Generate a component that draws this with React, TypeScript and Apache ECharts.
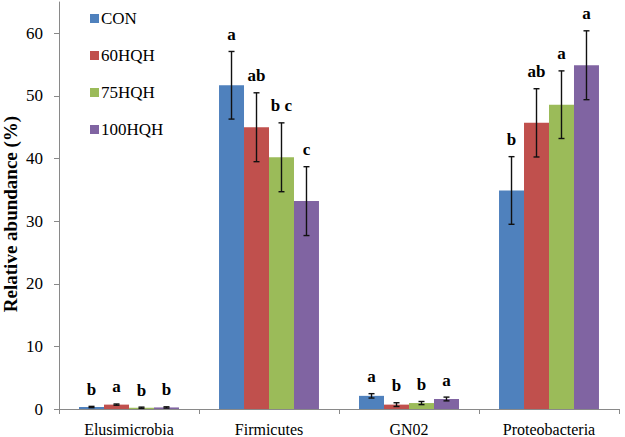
import React, { useEffect, useRef } from "react";
import * as echarts from "echarts";

const categories = ["Elusimicrobia", "Firmicutes", "GN02", "Proteobacteria"];
const seriesNames = ["CON", "60HQH", "75HQH", "100HQH"];
const conValues = [0.32, 51.7, 2.1, 34.9];
const hqh60Values = [0.7, 45.0, 0.7, 45.7];
const hqh75Values = [0.2, 40.2, 0.95, 48.6];
const hqh100Values = [0.25, 33.2, 1.6, 54.9];
const conErr = [0.1, 5.4, 0.35, 5.4];
const hqh60Err = [0.1, 5.5, 0.3, 5.45];
const hqh75Err = [0.1, 5.5, 0.25, 5.4];
const hqh100Err = [0.1, 5.5, 0.3, 5.5];
const conLetters = ["b", "a", "a", "b"];
const hqh60Letters = ["a", "ab", "b", "ab"];
const hqh75Letters = ["b", "b c", "b", "a"];
const hqh100Letters = ["b", "c", "a", "a"];
const yTicks = [0, 10, 20, 30, 40, 50, 60];
const yTitle = "Relative abundance (%)";
const colors = ["#4F81BD", "#C0504D", "#9BBB59", "#8064A2"];

const allValues = [conValues, hqh60Values, hqh75Values, hqh100Values];
const allErr = [conErr, hqh60Err, hqh75Err, hqh100Err];
const allLetters = [conLetters, hqh60Letters, hqh75Letters, hqh100Letters];

const CAT_GAP = 0.286;
const FONT = "Liberation Serif";

export default function App() {
  const ref = useRef<HTMLDivElement>(null);
  useEffect(() => {
    if (!ref.current) return;
    const chart = echarts.init(ref.current, undefined, { renderer: "svg" });
    const barSeries = seriesNames.map((name, s) => ({
      name,
      type: "bar",
      data: allValues[s],
      barGap: "0%",
      barCategoryGap: CAT_GAP * 100 + "%",
      itemStyle: { color: colors[s] },
      z: 2,
    }));
    const errSeries = seriesNames.map((name, s) => ({
      name: name + "_err",
      type: "custom",
      z: 5,
      silent: true,
      data: allValues[s].map((v, i) => [i, v, allErr[s][i]]),
      renderItem: (params: any, api: any) => {
        const ci = api.value(0);
        const v = api.value(1);
        const e = api.value(2);
        const center = api.coord([ci, v]);
        const bandW = api.size([1, 0])[0];
        const barW = (bandW * (1 - CAT_GAP)) / 4;
        const x = center[0] + (s - 1.5) * barW;
        const top = api.coord([ci, v + e])[1];
        const bot = api.coord([ci, Math.max(v - e, 0)])[1];
        const cap = 3;
        const st = { stroke: "#111", lineWidth: 1.4 };
        return {
          type: "group",
          children: [
            { type: "line", shape: { x1: x, y1: top, x2: x, y2: bot }, style: st },
            { type: "line", shape: { x1: x - cap, y1: top, x2: x + cap, y2: top }, style: st },
            { type: "line", shape: { x1: x - cap, y1: bot, x2: x + cap, y2: bot }, style: st },
            {
              type: "text",
              x,
              y: top - 17,
              style: {
                text: allLetters[s][params.dataIndex],
                fontFamily: FONT,
                fontSize: 17,
                fontWeight: "bold",
                align: "center",
                verticalAlign: "middle",
                fill: "#000",
              },
            },
          ],
        };
      },
    }));
    chart.setOption({
      animation: false,
      backgroundColor: "#ffffff",
      textStyle: { fontFamily: FONT },
      grid: { left: 59, right: 6, top: 2, bottom: 28, containLabel: false, outerBoundsMode: "none" },
      graphic: [
        {
          type: "text",
          x: 10,
          y: 214,
          rotation: Math.PI / 2,
          style: {
            text: yTitle,
            fontFamily: FONT,
            fontSize: 19,
            fontWeight: "bold",
            align: "center",
            verticalAlign: "middle",
            fill: "#000",
          },
        },
      ],
      legend: {
        data: seriesNames,
        orient: "vertical",
        left: 85,
        top: 5,
        icon: "rect",
        itemWidth: 9,
        itemHeight: 9,
        itemGap: 20,
        textStyle: { fontFamily: FONT, fontSize: 17, color: "#000", padding: [0, 0, 0, -3] },
      },
      xAxis: {
        type: "category",
        data: categories,
        boundaryGap: true,
        axisLine: { show: true, lineStyle: { color: "#898989", width: 1 } },
        axisTick: { show: true, alignWithLabel: false, length: 5, lineStyle: { color: "#898989" } },
        axisLabel: { fontFamily: FONT, fontSize: 16, color: "#000", margin: 12 },
        splitLine: { show: false },
      },
      yAxis: {
        type: "value",
        min: 0,
        max: 65,
        interval: 10,
        axisLine: { show: true, lineStyle: { color: "#898989", width: 1 } },
        axisTick: { show: true, length: 5, lineStyle: { color: "#898989" }, customValues: yTicks },
        axisLabel: { fontFamily: FONT, fontSize: 17, color: "#000", margin: 16, customValues: yTicks },
        splitLine: { show: false },
      },
      series: [...barSeries, ...errSeries],
    });
    return () => chart.dispose();
  }, []);
  return (
    <div
      ref={ref}
      style={{ position: "fixed", left: 0, top: 0, width: 625, height: 437 }}
    />
  );
}
